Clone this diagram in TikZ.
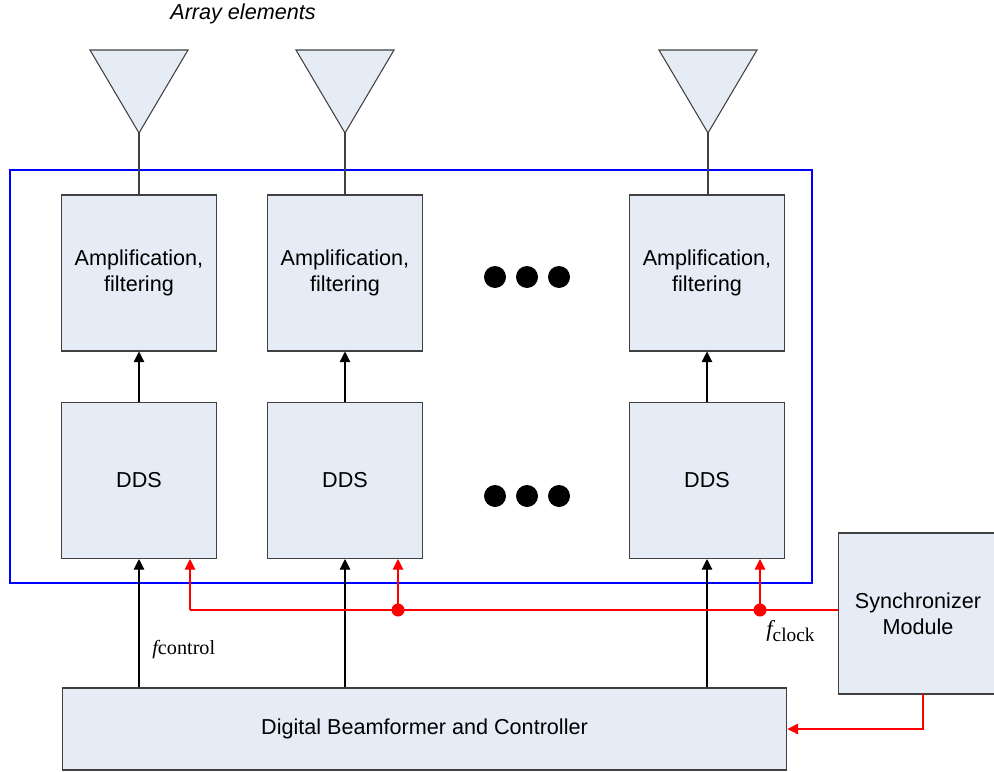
\documentclass[tikz,border=0pt]{standalone}
\usepackage{fontspec}
\setmainfont{Liberation Sans}
\newfontfamily\timesfont{Liberation Serif}
\usetikzlibrary{arrows.meta}

\definecolor{boxfill}{RGB}{230,236,246}
\definecolor{boxline}{RGB}{64,64,64}

\begin{document}
\begin{tikzpicture}[x=0.02cm,y=-0.02cm,
    blk/.style={draw=boxline,fill=boxfill,line width=0.6pt,minimum width=3.1cm,
      minimum height=3.12cm,align=center,inner sep=0pt,
      font=\fontsize{12.3}{15}\selectfont},
    feed/.style={draw=boxline,line width=0.6pt},
    sig/.style={-{Triangle[width=6pt,length=6pt]},line width=0.6pt},
    clk/.style={-{Triangle[width=6pt,length=6pt]},draw=red,line width=0.6pt}]

      \useasboundingbox (0,0) rectangle (994,771);

      % array elements
      \node (title) at (243,14) {\fontsize{12.3}{15}\selectfont\itshape Array elements};
      \begin{scope}[fill=boxfill,draw=boxline,line width=0.6pt]
        \filldraw (90,50)  -- (188,50) -- (139,133) -- cycle;
        \filldraw (296,50) -- (394,50) -- (345,133) -- cycle;
        \filldraw (659,50) -- (757,50) -- (708,133) -- cycle;
      \end{scope}
      \coordinate (ant1) at (139,133);
      \coordinate (ant2) at (345,133);
      \coordinate (ant3) at (708,133);

      % transmitter boundary
      \draw[blue,line width=1.2pt] (10,170) rectangle (812,583);

      \node[blk] (amp1) at (139,273) {Amplification,\\filtering};
      \node[blk] (amp2) at (345,273) {Amplification,\\filtering};
      \node[blk] (amp3) at (707,273) {Amplification,\\filtering};

      \node[blk] (dds1) at (139,480.5) {DDS};
      \node[blk] (dds2) at (345,480.5) {DDS};
      \node[blk] (dds3) at (707,480.5) {DDS};

      \node[blk,minimum width=14.5cm,minimum height=1.64cm] (dbf) at (424.5,729)
        {Digital Beamformer and Controller};
      \node[blk,minimum width=3.3cm,minimum height=3.22cm] (sync) at (921,613.5) {};
      \node[font=\fontsize{12.3}{15}\selectfont,align=center] (synctext) at (918,613.5)
        {Synchronizer\\Module};

      % ellipsis dots
      \begin{scope}[every node/.style={circle,fill=black,inner sep=0pt,minimum size=0.44cm}]
        \node (dA1) at (495,277) {};
        \node (dA2) at (527,277) {};
        \node (dA3) at (559,277) {};
        \node (dB1) at (495,496) {};
        \node (dB2) at (527,496) {};
        \node (dB3) at (559,496) {};
      \end{scope}

      % antenna feeds
      \path[feed] (ant1) -- (ant1 |- amp1.north);
      \path[feed] (ant2) -- (ant2 |- amp2.north);
      \path[feed] (ant3) -- (ant3 |- amp3.north);

      % DDS to amplifiers
      \draw[sig] (dds1.north) -- (amp1.south);
      \draw[sig] (dds2.north) -- (amp2.south);
      \draw[sig] (dds3.north) -- (amp3.south);

      % control lines
      \draw[sig] (dbf.north -| dds1) -- (dds1.south);
      \draw[sig] (dbf.north -| dds2) -- (dds2.south);
      \draw[sig] (dbf.north -| dds3) -- (dds3.south);
      \node[anchor=west,inner sep=0pt] (fctl) at (152,650)
        {\timesfont\fontsize{11.5}{14}\selectfont\itshape f\upshape control};

      % clock distribution
      \coordinate (r1) at (190,610);
      \coordinate (r2) at (398,610);
      \coordinate (r3) at (760,610);
      \draw[red,line width=0.6pt] (r1) -- (r1 -| sync.west);
      \draw[clk] (r1) -- (r1 |- dds1.south);
      \draw[clk] (r2) -- (r2 |- dds2.south);
      \draw[clk] (r3) -- (r3 |- dds3.south);
      \fill[red] (r2) circle (0.13cm);
      \fill[red] (r3) circle (0.13cm);
      \node[anchor=north west,inner sep=0pt] (fclk) at (766,620)
        {\timesfont\fontsize{13}{15}\selectfont\itshape f\upshape\raisebox{-3pt}{\fontsize{11}{13}\selectfont clock}};

      \coordinate (sy) at (923,694);
      \draw[clk] (sy) |- (dbf.east);

    \end{tikzpicture}
\end{document}
